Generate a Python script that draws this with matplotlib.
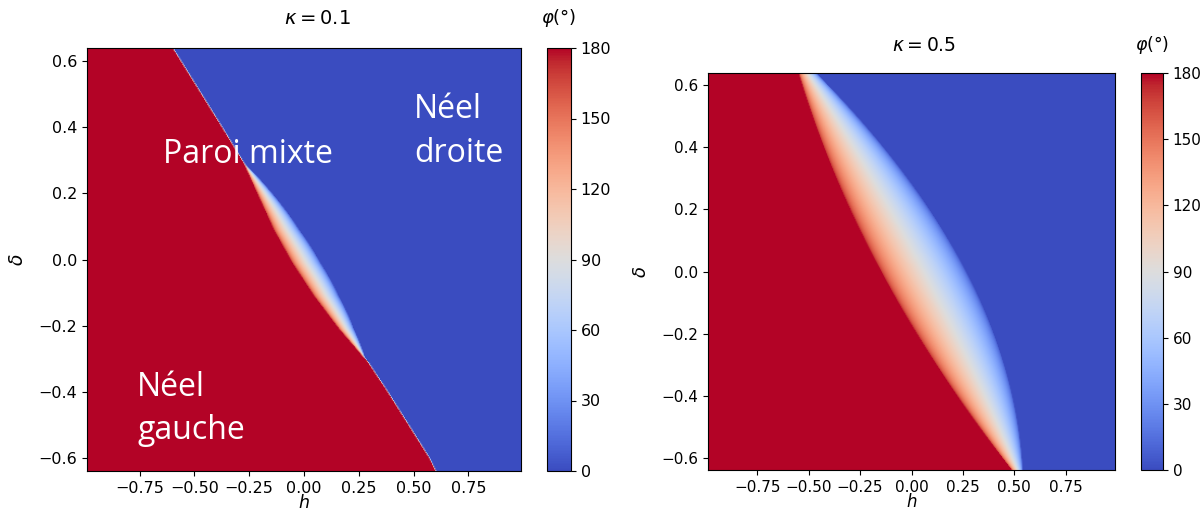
import numpy as np
import matplotlib
matplotlib.use("Agg")
import matplotlib.pyplot as plt

# edges of the mixed-wall band (h where red ends / where blue starts)
delta_k01 = [-0.64, -0.60, -0.40, -0.31, -0.21, -0.11, -0.01, 0.09, 0.19, 0.29, 0.40, 0.64]
h_red_k01 = [0.60, 0.57, 0.38, 0.290, 0.160, 0.046, -0.053, -0.137, -0.206, -0.274, -0.375, -0.60]
h_blue_k01 = [0.60, 0.57, 0.38, 0.290, 0.221, 0.153, 0.076, -0.015, -0.129, -0.274, -0.375, -0.60]

delta_k05 = [-0.64, -0.39, -0.18, 0.04, 0.25, 0.47, 0.64]
h_red_k05 = [0.486, 0.219, 0.0, -0.178, -0.332, -0.462, -0.551]
h_blue_k05 = [0.551, 0.478, 0.381, 0.235, 0.041, -0.203, -0.478]

h_range = [-0.99, 0.99]
delta_range = [-0.64, 0.64]
x_ticks = [-0.75, -0.5, -0.25, 0.0, 0.25, 0.5, 0.75]
y_ticks = [-0.6, -0.4, -0.2, 0.0, 0.2, 0.4, 0.6]
cb_ticks = [0, 30, 60, 90, 120, 150, 180]
n = 400


def phi_map(d_pts, red_pts, blue_pts, smooth_red):
    d_pts = np.array(d_pts)
    red_pts = np.array(red_pts)
    w_pts = np.array(blue_pts) - red_pts
    h = np.linspace(h_range[0], h_range[1], n)
    d = np.linspace(delta_range[0], delta_range[1], n)
    H, D = np.meshgrid(h, d)
    if smooth_red:
        hr = np.polyval(np.polyfit(d_pts, red_pts, 3), d)
    else:
        hr = np.interp(d, d_pts, red_pts)
    # smooth band width: quadratic through the non-zero readings (+ the pinch points)
    nz = np.nonzero(w_pts > 0)[0]
    lo, hi = max(nz[0] - 1, 0), min(nz[-1] + 1, len(w_pts) - 1)
    coef = np.polyfit(d_pts[lo:hi + 1], w_pts[lo:hi + 1], 2)
    w = np.clip(np.polyval(coef, d), 0, None)
    w[(d < d_pts[lo]) | (d > d_pts[hi])] = 0
    dh = h[1] - h[0]
    width = np.maximum(w, dh)[:, None]
    c = np.clip(-1 + 2 * (H - hr[:, None]) / width, -1, 1)
    return np.degrees(np.arccos(c))


def draw(ax, cax, phi, kappa, fs, hpad):
    im = ax.imshow(phi, origin="lower", aspect="auto", cmap="coolwarm",
                   vmin=0, vmax=180, interpolation="bilinear",
                   extent=[h_range[0], h_range[1], delta_range[0], delta_range[1]])
    ax.set_xticks(x_ticks)
    ax.set_yticks(y_ticks)
    ax.tick_params(labelsize=fs)
    ax.set_xlabel(r"$h$", fontsize=fs + 1, labelpad=hpad)
    ax.set_ylabel(r"$\delta$", fontsize=fs + 2, labelpad=8)
    ax.text(0.53, 1.07, rf"$\kappa = {kappa}$", transform=ax.transAxes,
            ha="center", va="center", fontsize=fs + 2.5)
    cb = plt.colorbar(im, cax=cax, ticks=cb_ticks)
    cb.ax.tick_params(labelsize=fs)
    cax.text(0.5, 1.07, r"$\varphi(°)$", transform=cax.transAxes,
             ha="center", va="center", fontsize=fs + 1.5)


W, Hpx = 1200, 513
fig = plt.figure(figsize=(12, 5.13), dpi=100)
ax1 = fig.add_axes([87 / W, 1 - 471 / Hpx, 434 / W, 423 / Hpx])
cax1 = fig.add_axes([547 / W, 1 - 471 / Hpx, 24 / W, 423 / Hpx])
ax2 = fig.add_axes([708 / W, 1 - 470 / Hpx, 407 / W, 397 / Hpx])
cax2 = fig.add_axes([1141 / W, 1 - 470 / Hpx, 22 / W, 397 / Hpx])

draw(ax1, cax1, phi_map(delta_k01, h_red_k01, h_blue_k01, False), 0.1, 11.5, -1.5)
draw(ax2, cax2, phi_map(delta_k05, h_red_k05, h_blue_k05, True), 0.5, 11, -1)

lab = dict(color="white", fontsize=23, family=["Open Sans", "DejaVu Sans"],
           ha="left", va="baseline")
ax1.text(-0.645, 0.293, "Paroi mixte", **lab)
ax1.text(0.503, 0.427, "Néel", **lab)
ax1.text(0.503, 0.296, "droite", **lab)
ax1.text(-0.761, -0.413, "Néel", **lab)
ax1.text(-0.761, -0.544, "gauche", **lab)

fig.savefig("out.png", dpi=100)
